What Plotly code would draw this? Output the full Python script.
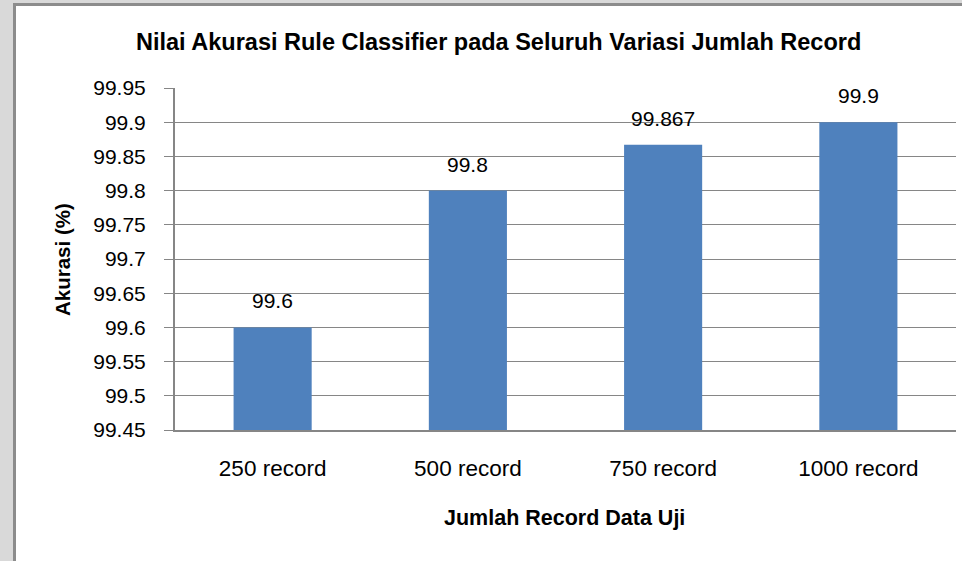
import plotly.graph_objects as go

categories = ["250 record", "500 record", "750 record", "1000 record"]
accuracy = [99.6, 99.8, 99.867, 99.9]
label_text = ["99.6", "99.8", "99.867", "99.9"]
y_ticks = [99.45, 99.5, 99.55, 99.6, 99.65, 99.7, 99.75, 99.8, 99.85, 99.9, 99.95]

W, H = 962, 561
L, R, T, B = 175, 956, 88, 430
FONT = "Liberation Sans Narrow, Arial Narrow, Liberation Sans, Arial, sans-serif"

def px(x):
    return (x - L) / (R - L)

def py(y):
    return (B - y) / (B - T)

fig = go.Figure()
fig.add_trace(go.Bar(
    x=categories, y=accuracy, width=0.4,
    marker=dict(color="#4f81bd", line=dict(width=0)),
    showlegend=False,
))

for c, v, t in zip(categories, accuracy, label_text):
    fig.add_annotation(x=c, y=v, text=t, showarrow=False, yanchor="bottom",
                       yshift=13, font=dict(family=FONT, size=21, color="#000000"))

fig.add_annotation(xref="paper", yref="paper", x=px(498), y=py(42), text="<b>Nilai Akurasi Rule Classifier pada Seluruh Variasi Jumlah Record</b>",
                   showarrow=False, xanchor="center", yanchor="middle",
                   font=dict(family=FONT, size=23.5, color="#000000"))
fig.add_annotation(xref="paper", yref="paper", x=px(564), y=py(518), text="<b>Jumlah Record Data Uji</b>",
                   showarrow=False, xanchor="center", yanchor="middle",
                   font=dict(family=FONT, size=21.5, color="#000000"))
fig.add_annotation(xref="paper", yref="paper", x=px(62), y=py(260), text="<b>Akurasi (%)</b>",
                   showarrow=False, xanchor="center", yanchor="middle", textangle=-90,
                   font=dict(family=FONT, size=20.5, color="#000000"))

# chart frame: white chart area with gray border on a light gray page
fig.add_shape(type="rect", xref="paper", yref="paper", layer="below",
              x0=px(14.5), x1=px(W + 20), y0=py(H + 20), y1=py(4.5),
              fillcolor="#ffffff", line=dict(width=3, color="#8c8c8c"))

fig.update_layout(
    width=W, height=H,
    margin=dict(l=L, r=W - R, t=T, b=H - B, pad=0),
    paper_bgcolor="#d9d9d9", plot_bgcolor="#ffffff",
    font=dict(family=FONT, size=21, color="#000000"),
)
fig.update_xaxes(
    showgrid=False, showline=True, linecolor="#868686", linewidth=2,
    ticks="", tickfont=dict(family=FONT, size=22.5, color="#000000"),
    ticklabelstandoff=17,
)
fig.update_yaxes(
    range=[99.45, 99.95], tickvals=y_ticks, ticktext=[f"{v:g}" for v in y_ticks],
    showgrid=True, gridcolor="#868686", gridwidth=1,
    showline=True, linecolor="#868686", linewidth=2,
    ticks="outside", ticklen=9, tickcolor="#868686", tickwidth=1,
    tickfont=dict(family=FONT, size=21, color="#000000"),
    ticklabelstandoff=14, zeroline=False,
)

fig.write_html("out.html", config={"displayModeBar": False},
               post_script="document.body.style.margin='0';document.body.style.overflow='hidden';")
